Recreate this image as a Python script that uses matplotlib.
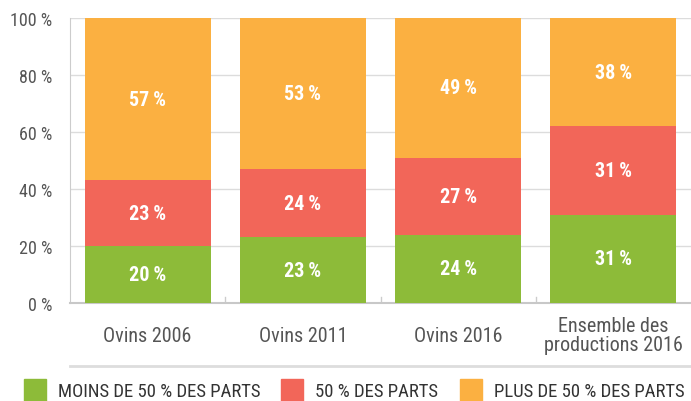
import numpy as np
import matplotlib
matplotlib.use("Agg")
from matplotlib import pyplot as plt
from matplotlib.patches import Rectangle
from matplotlib.lines import Line2D

categories = ["Ovins 2006", "Ovins 2011", "Ovins 2016", "Ensemble des\nproductions 2016"]
moins_50 = [20, 23, 24, 31]
egal_50 = [23, 24, 27, 31]
plus_50 = [57, 53, 49, 38]
series_names = ["MOINS DE 50 % DES PARTS", "50 % DES PARTS", "PLUS DE 50 % DES PARTS"]
colors = ["#8dbb39", "#f26659", "#fbb041"]

FONT = ["Roboto Condensed", "Liberation Sans Narrow", "Roboto", "DejaVu Sans"]
plt.rcParams["font.family"] = FONT

fig = plt.figure(figsize=(6.91, 4.02), dpi=100)
ax = fig.add_axes([70 / 691, 1 - 304 / 402, 1 - 70 / 691, 285 / 402])

x = np.arange(len(categories))
bottom = np.zeros(len(categories))
for vals, col in zip([moins_50, egal_50, plus_50], colors):
    vals = np.array(vals)
    ax.bar(x, vals, 0.81, bottom=bottom, color=col, zorder=3)
    for xi, b, v in zip(x, bottom, vals):
        ax.text(xi, b + v / 2, f"{v}\u2009%", ha="center", va="center",
                color="white", fontsize=14.5, fontweight="bold", zorder=4)
    bottom += vals

ax.set_xlim(-0.5, 3.5)
ax.set_ylim(0, 100)
ax.set_yticks(range(0, 101, 20))
ax.set_yticklabels([f"{v} %" for v in range(0, 101, 20)])
ax.yaxis.grid(True, color="#dcdcdc", lw=1, zorder=0)
ax.tick_params(axis="y", length=0, pad=13, labelsize=13, labelcolor="#555555")

# category labels (vertically centred), small ticks between groups
ax.set_xticks([])
for xi, cat in zip(x, categories):
    ax.text(xi, -11.3, cat, ha="center", va="center", fontsize=14.5,
            color="#555555", linespacing=1.0, clip_on=False)
for xb in [0.5, 1.5, 2.5]:
    ax.plot([xb, xb], [0, 2.2], color="#cccccc", lw=1, zorder=2)

for s in ["top", "right"]:
    ax.spines[s].set_visible(False)
ax.spines["left"].set_color("#cccccc")
ax.spines["bottom"].set_color("#c8c8c8")
ax.spines["bottom"].set_linewidth(1.5)

# separator line above legend
fig.add_artist(Line2D([70 / 691, 1], [1 - 367 / 402] * 2, color="#dddddd", lw=2))

# legend
leg_x = [24, 281, 460]
for lx, name, col in zip(leg_x, series_names, colors):
    fig.add_artist(Rectangle((lx / 691, 0.0), 22 / 691, 22 / 402,
                             transform=fig.transFigure, color=col))
    fig.text((lx + 34) / 691, 1 - 392 / 402, name, ha="left", va="center",
             fontsize=13.5, color="#333333")

fig.savefig("out.png", dpi=100)
